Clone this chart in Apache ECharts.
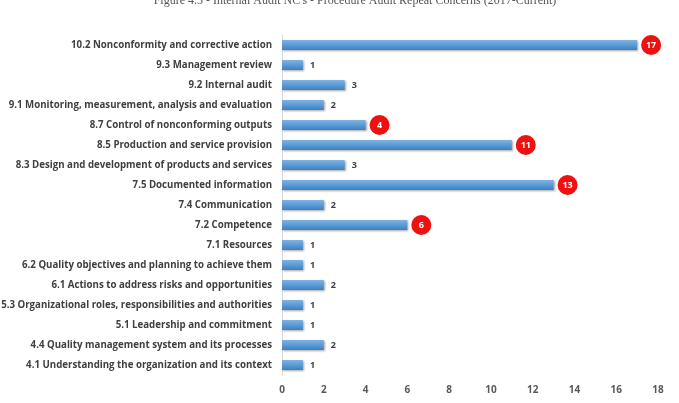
<!DOCTYPE html>
<html lang="en">
<head>
<meta charset="UTF-8">
<title>Internal Audit NC's</title>
<script src="https://cdn.jsdelivr.net/npm/echarts@6/dist/echarts.min.js"></script>
<style>
  html, body { margin: 0; padding: 0; background: #fff; }
</style>
</head>
<body>
<div id="main" style="width: 679px;height: 403px"></div>
<script>
    // clauses, top to bottom
    let clauses = [
        "10.2 Nonconformity and corrective action",
        "9.3 Management review",
        "9.2 Internal audit",
        "9.1 Monitoring, measurement, analysis and evaluation",
        "8.7 Control of nonconforming outputs",
        "8.5 Production and service provision",
        "8.3 Design and development of products and services",
        "7.5 Documented information",
        "7.4 Communication",
        "7.2 Competence",
        "7.1 Resources",
        "6.2 Quality objectives and planning to achieve them",
        "6.1 Actions to address risks and opportunities",
        "5.3 Organizational roles, responsibilities and authorities",
        "5.1 Leadership and commitment",
        "4.4 Quality management system and its processes",
        "4.1 Understanding the organization and its context"
    ]
    let concerns = [17, 1, 3, 2, 4, 11, 3, 13, 2, 6, 1, 1, 2, 1, 1, 2, 1]
    // values circled in red in the original
    let highlighted = [17, 4, 11, 13, 6]

    let plainLabel = {
        show: true,
        position: 'right',
        distance: 7,
        color: '#404040',
        fontSize: 9,
        fontWeight: 'bold',
        fontFamily: 'Open Sans'
    }
    let redLabel = {
        show: true,
        position: 'right',
        distance: 4,
        formatter: '{r|{c}}',
        rich: {
            r: {
                color: '#fff',
                fontSize: 9,
                fontWeight: 'bold',
                fontFamily: 'Open Sans',
                backgroundColor: '#ee1111',
                width: 20,
                height: 20,
                lineHeight: 20,
                align: 'center',
                borderRadius: 10
            }
        }
    }
    let barData = concerns.map(function (v) {
        return {
            value: v,
            label: highlighted.indexOf(v) >= 0 ? redLabel : plainLabel
        }
    })

    let mycharts = echarts.init(document.getElementById("main"))
    mycharts.setOption({
        animation: false,
        title: {
            text: "Figure 4.5 - Internal Audit NC's - Procedure Audit Repeat Concerns (2017-Current)",
            left: 350,
            textAlign: 'center',
            top: -10,
            textStyle: {
                fontFamily: 'Liberation Serif',
                fontWeight: 'normal',
                fontSize: 12,
                color: '#555'
            }
        },
        grid: {left: 282, right: 21, top: 35, bottom: 28, containLabel: false, outerBoundsMode: 'none'},
        xAxis: {
            type: 'value',
            min: 0,
            max: 18,
            interval: 2,
            axisLine: {show: false},
            axisTick: {show: false},
            splitLine: {show: false},
            axisLabel: {
                margin: 10,
                color: '#595959',
                fontSize: 10,
                fontWeight: 'bold',
                fontFamily: 'Open Sans'
            }
        },
        yAxis: {
            type: 'category',
            inverse: true,
            data: clauses,
            axisLine: {show: true, lineStyle: {color: '#d9d9d9'}},
            axisTick: {show: false},
            axisLabel: {
                margin: 10,
                color: '#404040',
                fontSize: 9.7,
                fontWeight: 'bold',
                fontFamily: 'Open Sans'
            }
        },
        series: [{
            name: 'Repeat concerns',
            type: 'bar',
            barWidth: 10,
            itemStyle: {
                color: new echarts.graphic.LinearGradient(0, 0, 0, 1, [
                    {offset: 0, color: '#7fb3e3'},
                    {offset: 0.5, color: '#5b9bd5'},
                    {offset: 1, color: '#3f7fbf'}
                ]),
                shadowColor: 'rgba(0,0,0,0.35)',
                shadowBlur: 2,
                shadowOffsetX: 1,
                shadowOffsetY: 1
            },
            data: barData
        }]
    })
</script>
</body>
</html>
